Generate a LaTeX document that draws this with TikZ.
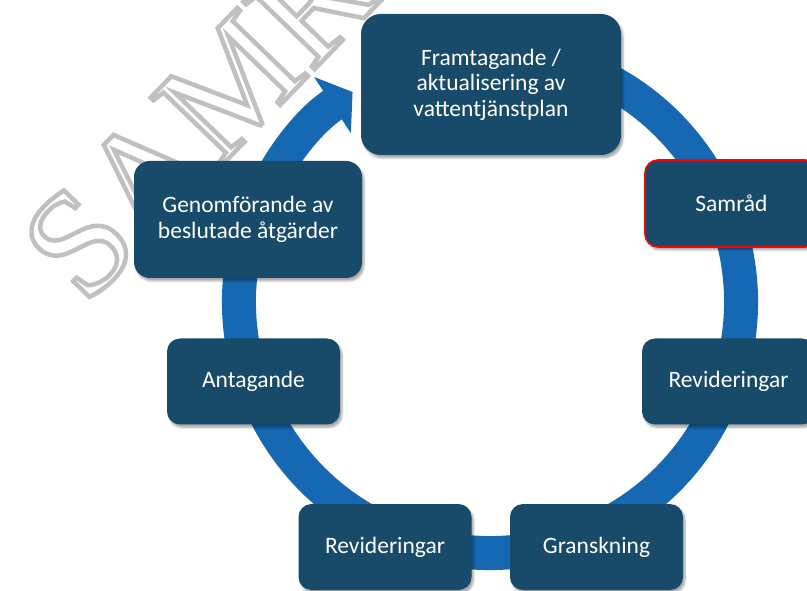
\documentclass[tikz,border=0pt]{standalone}
\usepackage{fontspec}
\setmainfont{Carlito}
\newfontfamily\markfont{Liberation Serif}
\usetikzlibrary{arrows.meta,shadows.blur}

\definecolor{stagefill}{HTML}{184A69}
\definecolor{ringblue}{HTML}{1668B2}
\definecolor{markgray}{HTML}{C0C0C0}

\newcommand\hollowtext[1]{\special{pdf:literal direct 1 Tr 4.5 w}#1\special{pdf:literal direct 0 Tr}}

\tikzset{
  stage/.style={fill=stagefill, text=white, rounded corners=13pt,
    minimum width=173pt, minimum height=86pt, align=center, inner sep=0pt,
    font=\fontsize{23.5}{25.5}\selectfont,
    blur shadow={shadow xshift=2pt, shadow yshift=-3pt, shadow blur steps=6, shadow opacity=35}},
  ring/.style={ringblue, line width=34pt, -{Triangle[length=24pt,width=66pt]}}
}

\begin{document}
\begin{tikzpicture}[x=1pt,y=1pt]
  \useasboundingbox (0,0) rectangle (807,590);
  \node[anchor=base west, rotate=46, inner sep=0pt, text=markgray] (mark) at (85,283)
    {\markfont\fontsize{150}{152}\selectfont\hollowtext{SAMRÅD}};
  \draw[ring] (490,288) ++(70:251) arc[start angle=70, end angle=-236.8, radius=251];
  \node[stage, minimum width=260pt, minimum height=141pt, rounded corners=20pt] (plan) at (491,505.5) {Framtagande /\\aktualisering av\\vattentjänstplan};
  \node[stage, draw=red, line width=1.6pt, minimum height=87pt] (samrad) at (731.5,386.5) {Samråd};
  \node[stage] (rev1) at (728.5,208.5) {Revideringar};
  \node[stage] (gransk) at (596.5,43) {Granskning};
  \node[stage] (rev2) at (385,43) {Revideringar};
  \node[stage] (antag) at (253.5,208.5) {Antagande};
  \node[stage, minimum width=228pt, minimum height=117pt, rounded corners=16pt] (genom) at (248,370.5) {Genomförande av\\beslutade åtgärder};
\end{tikzpicture}
\end{document}
